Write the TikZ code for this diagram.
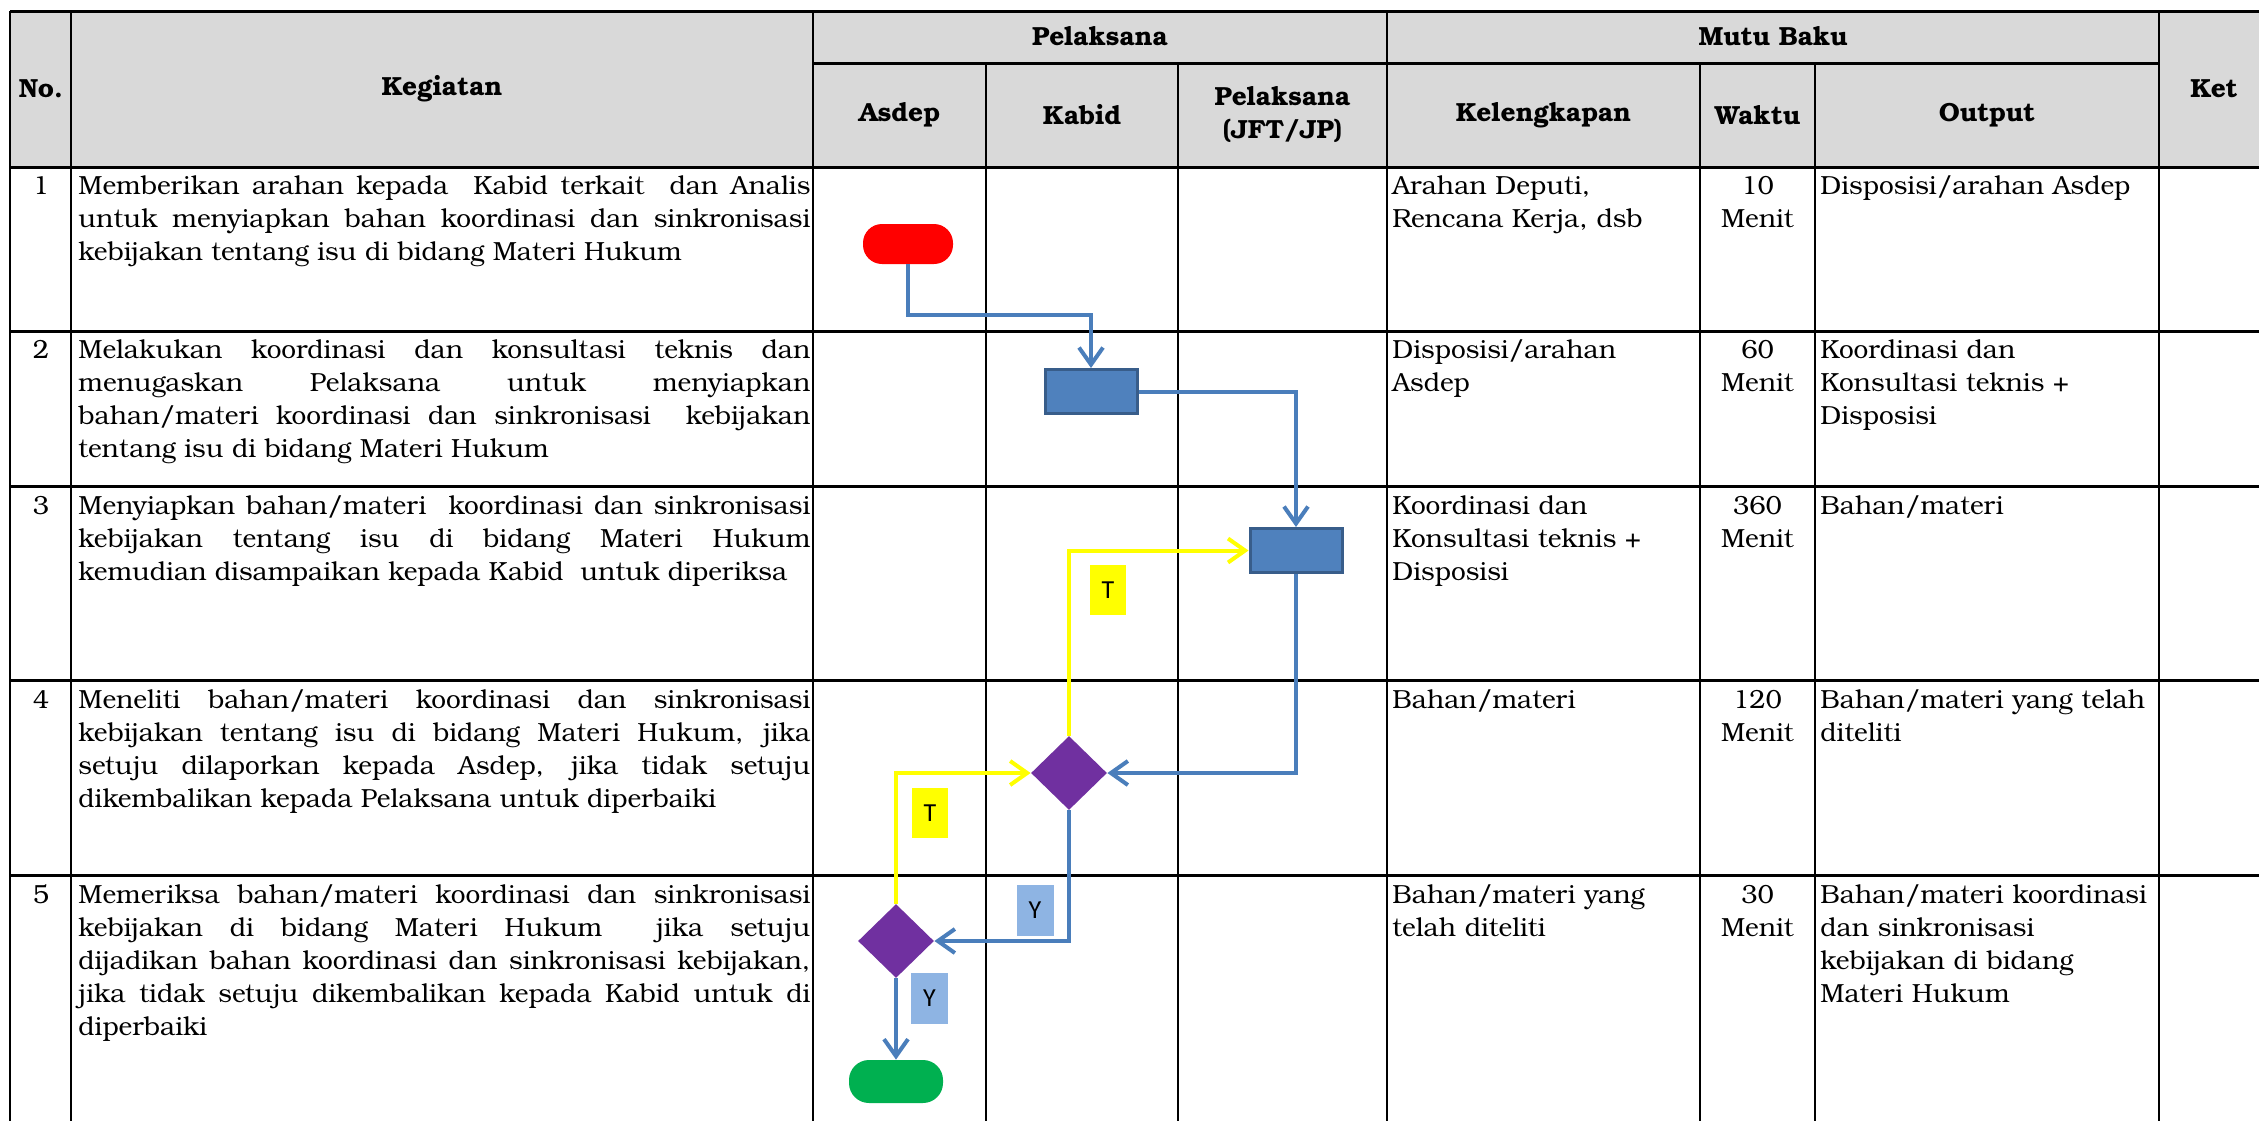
\documentclass[tikz,border=0pt]{standalone}
\usepackage{fontspec}
\setmainfont{TeX Gyre Bonum}
\newfontfamily\lblfont{Carlito}
\usetikzlibrary{arrows.meta,shapes.geometric}
\definecolor{hdr}{HTML}{D9D9D9}
\definecolor{flowblue}{HTML}{4A7EBB}
\definecolor{boxfill}{HTML}{4F81BD}
\definecolor{boxdraw}{HTML}{385D8A}
\definecolor{purp}{HTML}{7030A0}
\definecolor{ylab}{HTML}{8EB4E3}
\definecolor{grn}{HTML}{00B050}
\definecolor{yel}{HTML}{FFFF00}
\tikzset{
  bodyfont/.style={font=\fontsize{13.1}{16.5}\selectfont},
  hd/.style={font=\fontsize{13.1}{16.5}\selectfont\bfseries, align=center, inner sep=0pt},
  cell/.style={bodyfont, anchor=north west, inner sep=0pt, align=left},
  keg/.style={cell, text width=366pt, align=justify},
  num/.style={bodyfont, anchor=north, inner sep=0pt},
  wkt/.style={bodyfont, anchor=north, inner sep=0pt, text width=50pt, align=center},
  hline/.style={line width=1.5pt},
  vline/.style={line width=1.2pt},
  procbox/.style={draw=boxdraw, fill=boxfill, line width=1.5pt, minimum width=46pt, minimum height=22pt, inner sep=0pt},
  decis/.style={diamond, fill=purp, minimum width=38pt, minimum height=37pt, inner sep=0pt},
  startnode/.style={fill=red, minimum width=45pt, minimum height=20pt, rounded corners=9.5pt, inner sep=0pt},
  endnode/.style={fill=grn, minimum width=47pt, minimum height=21.5pt, rounded corners=10pt, inner sep=0pt},
  bconn/.style={draw=flowblue, line width=2pt, -{Straight Barb[length=8.5pt,width=12pt]}},
  yconn/.style={draw=yel, line width=2pt, -{Straight Barb[length=8.5pt,width=12pt]}},
  tlab/.style={fill=yel, font=\lblfont\fontsize{13}{14}\selectfont, minimum width=18pt, minimum height=25pt, inner sep=0pt},
  ylabel/.style={fill=ylab, font=\lblfont\fontsize{13}{14}\selectfont, minimum width=18.5pt, minimum height=25.5pt, inner sep=0pt},
}
\begin{document}
\begin{tikzpicture}[x=0.5pt, y=-0.5pt]
\useasboundingbox (0,0) rectangle (2259,1121);
\fill[white] (0,0) rectangle (2259,1121);
% header background
\fill[hdr] (10,11) rectangle (2259,167);
% horizontal lines
\draw[hline] (10,11) -- (2259,11);
\draw[hline] (813,63) -- (2159,63);
\draw[hline] (10,167) -- (2259,167);
\draw[hline] (10,331) -- (2259,331);
\draw[hline] (10,486.5) -- (2259,486.5);
\draw[hline] (10,680.5) -- (2259,680.5);
\draw[hline] (10,875.5) -- (2259,875.5);
% vertical lines
\draw[vline] (10,11) -- (10,1121);
\draw[vline] (71,11) -- (71,1121);
\draw[vline] (813,11) -- (813,1121);
\draw[vline] (1387,11) -- (1387,1121);
\draw[vline] (2159,11) -- (2159,1121);
\draw[vline] (986,63) -- (986,1121);
\draw[vline] (1178,63) -- (1178,1121);
\draw[vline] (1700,63) -- (1700,1121);
\draw[vline] (1815,63) -- (1815,1121);
% header texts
\node[hd] (hno) at (41,89) {No.};
\node[hd] (hkeg) at (442,89) {Kegiatan};
\node[hd] (hpel) at (1100,36) {Pelaksana};
\node[hd] (hmutu) at (1773,36) {Mutu Baku};
\node[hd] (hket) at (2214,89) {Ket};
\node[hd] (hasdep) at (899.5,115) {Asdep};
\node[hd] (hkabid) at (1082,115) {Kabid};
\node[hd] (hjft) at (1282.5,115) {Pelaksana\\(JFT/JP)};
\node[hd] (hkel) at (1543.5,115) {Kelengkapan};
\node[hd] (hwak) at (1757.5,115) {Waktu};
\node[hd] (hout) at (1987,115) {Output};
% row 1
\node[num] (n1) at (41,171) {\strut 1};
\node[keg] (k1) at (78,171) {\strut Memberikan arahan kepada\ \ Kabid terkait\ \ dan Analis\linebreak untuk menyiapkan bahan koordinasi dan sinkronisasi\linebreak kebijakan tentang isu di bidang Materi Hukum};
\node[cell, text width=150pt] (l1) at (1392,171) {\strut Arahan Deputi,\\Rencana Kerja, dsb};
\node[wkt] (w1) at (1757.5,171) {\strut 10\\Menit};
\node[cell, text width=165pt] (o1) at (1820,171) {\strut Disposisi/arahan Asdep};
% row 2
\node[num] (n2) at (41,335) {\strut 2};
\node[keg] (k2) at (78,335) {\strut Melakukan koordinasi dan konsultasi teknis dan\linebreak menugaskan Pelaksana untuk menyiapkan\linebreak bahan/materi koordinasi dan sinkronisasi\ \ kebijakan\linebreak tentang isu di bidang Materi Hukum};
\node[cell, text width=150pt] (l2) at (1392,335) {\strut Disposisi/arahan\\Asdep};
\node[wkt] (w2) at (1757.5,335) {\strut 60\\Menit};
\node[cell, text width=165pt] (o2) at (1820,335) {\strut Koordinasi dan\\Konsultasi teknis +\\Disposisi};
% row 3
\node[num] (n3) at (41,490.5) {\strut 3};
\node[keg] (k3) at (78,490.5) {\strut Menyiapkan bahan/materi\ \ koordinasi dan sinkronisasi\linebreak kebijakan tentang isu di bidang Materi Hukum\linebreak kemudian disampaikan kepada Kabid\ \ untuk diperiksa};
\node[cell, text width=150pt] (l3) at (1392,490.5) {\strut Koordinasi dan\\Konsultasi teknis +\\Disposisi};
\node[wkt] (w3) at (1757.5,490.5) {\strut 360\\Menit};
\node[cell, text width=165pt] (o3) at (1820,490.5) {\strut Bahan/materi};
% row 4
\node[num] (n4) at (41,684.5) {\strut 4};
\node[keg] (k4) at (78,684.5) {\strut Meneliti bahan/materi koordinasi dan sinkronisasi\linebreak kebijakan tentang isu di bidang Materi Hukum, jika\linebreak setuju dilaporkan kepada Asdep, jika tidak setuju\linebreak dikembalikan kepada Pelaksana untuk diperbaiki};
\node[cell, text width=150pt] (l4) at (1392,684.5) {\strut Bahan/materi};
\node[wkt] (w4) at (1757.5,684.5) {\strut 120\\Menit};
\node[cell, text width=170pt] (o4) at (1820,684.5) {\strut Bahan/materi yang telah\\diteliti};
% row 5
\node[num] (n5) at (41,879.5) {\strut 5};
\node[keg] (k5) at (78,879.5) {\strut Memeriksa bahan/materi koordinasi dan sinkronisasi\linebreak kebijakan di bidang Materi Hukum\ \ jika setuju\linebreak dijadikan bahan koordinasi dan sinkronisasi kebijakan,\linebreak jika tidak setuju dikembalikan kepada Kabid untuk di\linebreak diperbaiki};
\node[cell, text width=150pt] (l5) at (1392,879.5) {\strut Bahan/materi yang\\telah diteliti};
\node[wkt] (w5) at (1757.5,879.5) {\strut 30\\Menit};
\node[cell, text width=170pt] (o5) at (1820,879.5) {\strut Bahan/materi koordinasi\\dan sinkronisasi\\kebijakan di bidang\\Materi Hukum};
% flowchart nodes
\node[startnode] (start) at (908,244) {};
\node[procbox] (box2) at (1091,391.5) {};
\node[procbox] (box3) at (1296,550.5) {};
\node[decis] (d1) at (1069,773) {};
\node[decis] (d2) at (896,941) {};
\node[endnode] (stop) at (896,1081.5) {};
\coordinate (c1) at (1091,315);
% labels
\node[tlab] (t1) at (1108,590) {T};
\node[tlab] (t2) at (930,813) {T};
\node[ylabel] (y1) at (1035,910) {Y};
\node[ylabel] (y2) at (929.5,998.5) {Y};
% connectors
\draw[bconn] (start) |- (c1) -- (box2);
\draw[bconn] (box2) -| (box3);
\draw[bconn] (box3) |- (d1);
\draw[yconn] (d1) |- (box3);
\draw[bconn] (d1) |- (d2);
\draw[yconn] (d2) |- (d1);
\draw[bconn] (d2) -- (stop);
\end{tikzpicture}
\end{document}
